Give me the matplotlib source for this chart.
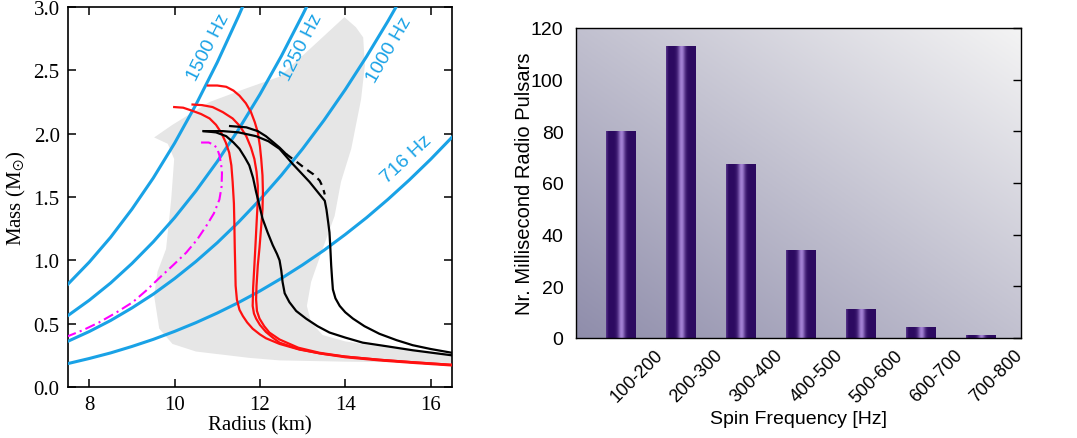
import numpy as np
import matplotlib.pyplot as plt
from matplotlib.colors import to_rgb

# ---- left panel: mass-radius ----
# mass-shedding lines (radius km, mass Msun)
r_716 = [7.5, 8.0, 8.5, 9.0, 9.5, 10.0, 10.5, 11.0, 11.5, 12.0, 12.5, 13.0, 13.5, 14.0, 14.5, 15.0, 15.5, 16.0, 16.5]
m_716 = [0.185, 0.225, 0.269, 0.320, 0.376, 0.439, 0.508, 0.584, 0.667, 0.758, 0.857, 0.964, 1.079, 1.204, 1.337, 1.481, 1.634, 1.797, 1.971]
r_1000 = [7.5, 8.0, 8.5, 9.0, 9.5, 10.0, 10.5, 11.0, 11.5, 12.0, 12.5, 13.0, 13.5, 14.0, 14.5, 15.0, 15.25]
m_1000 = [0.361, 0.438, 0.525, 0.624, 0.733, 0.856, 0.991, 1.139, 1.302, 1.479, 1.671, 1.880, 2.105, 2.348, 2.609, 2.888, 3.035]
r_1250 = [7.5, 8.0, 8.5, 9.0, 9.5, 10.0, 10.5, 11.0, 11.5, 12.0, 12.5, 13.0, 13.1]
m_1250 = [0.564, 0.685, 0.821, 0.975, 1.146, 1.337, 1.548, 1.780, 2.034, 2.310, 2.611, 2.938, 3.006]
r_1500 = [7.5, 8.0, 8.5, 9.0, 9.5, 10.0, 10.5, 11.0, 11.5, 11.7]
m_1500 = [0.812, 0.986, 1.182, 1.404, 1.650, 1.925, 2.229, 2.563, 2.929, 3.084]

freq_labels = ["1500 Hz", "1250 Hz", "1000 Hz", "716 Hz"]
label_r = [10.79, 12.98, 15.04, 15.43]
label_m = [2.69, 2.69, 2.67, 1.80]
label_rot = [63, 63, 60, 43]

# allowed region (gray)
gray_r = [13.98, 14.25, 14.42, 14.46, 14.37, 14.14, 13.90, 13.75, 13.47, 13.20, 13.10, 13.20, 13.47,
          14.0, 15.0, 16.5, 16.5, 14.0, 12.46, 11.75, 10.5, 9.95, 9.64, 9.52, 9.60, 9.80, 9.92,
          9.99, 9.84, 9.52, 9.95, 10.82, 11.7, 12.46, 13.24]
gray_m = [2.92, 2.84, 2.76, 2.54, 2.27, 1.88, 1.62, 1.35, 1.09, 0.83, 0.64, 0.51, 0.41,
          0.36, 0.31, 0.26, 0.19, 0.20, 0.21, 0.23, 0.28, 0.34, 0.46, 0.72, 0.91, 1.09, 1.48,
          1.80, 1.92, 1.97, 2.07, 2.25, 2.36, 2.45, 2.69]

# red EOS curves
red_a_r = [9.99, 10.2, 10.42, 10.62, 10.82, 10.97, 11.09, 11.2, 11.28, 11.33, 11.36, 11.39, 11.40, 11.41,
           11.42, 11.43, 11.46, 11.52, 11.60, 11.70, 11.83, 12.0, 12.14, 12.46, 12.93, 13.5, 14.0, 14.8, 15.6, 16.5]
red_a_m = [2.21, 2.205, 2.18, 2.155, 2.12, 2.07, 2.01, 1.93, 1.85, 1.75, 1.62, 1.45, 1.30, 1.10,
           0.96, 0.80, 0.69, 0.61, 0.56, 0.51, 0.46, 0.415, 0.385, 0.34, 0.295, 0.26, 0.235, 0.21, 0.19, 0.17]
red_b_r = [10.42, 10.65, 10.89, 11.13, 11.36, 11.53, 11.68, 11.79, 11.87, 11.92, 11.95, 11.95, 11.93, 11.90,
           11.87, 11.84, 11.83, 11.86, 11.91, 12.0, 12.14, 12.3, 12.46, 12.9, 13.4, 14.0, 14.8, 15.6, 16.5]
red_b_m = [2.23, 2.225, 2.21, 2.17, 2.12, 2.06, 1.98, 1.89, 1.80, 1.70, 1.59, 1.47, 1.35, 1.15,
           0.96, 0.78, 0.64, 0.58, 0.54, 0.49, 0.435, 0.39, 0.35, 0.30, 0.265, 0.24, 0.215, 0.195, 0.175]
red_c_r = [10.78, 11.0, 11.21, 11.38, 11.52, 11.67, 11.79, 11.88, 11.95, 12.0, 12.03, 12.06, 12.07, 12.06,
           12.03, 11.99, 11.95, 11.92, 11.91, 11.93, 11.99, 12.1, 12.22, 12.46, 12.9, 13.4, 14.0, 14.8, 15.6, 16.5]
red_c_m = [2.38, 2.38, 2.37, 2.34, 2.30, 2.24, 2.17, 2.09, 2.01, 1.90, 1.80, 1.67, 1.54, 1.40,
           1.27, 1.10, 0.96, 0.80, 0.69, 0.60, 0.54, 0.48, 0.43, 0.375, 0.31, 0.27, 0.24, 0.215, 0.195, 0.175]

# black EOS curves
blk_a_r = [10.68, 10.97, 11.21, 11.38, 11.52, 11.65, 11.75, 11.84, 11.91, 11.99, 12.06, 12.18, 12.30, 12.40,
           12.46, 12.50, 12.53, 12.58, 12.69, 12.85, 13.08, 13.35, 13.63, 14.0, 14.41, 15.0, 15.58, 16.5]
blk_a_m = [2.02, 2.01, 1.98, 1.93, 1.88, 1.81, 1.75, 1.65, 1.54, 1.43, 1.33, 1.22, 1.12, 1.05,
           1.00, 0.92, 0.83, 0.74, 0.67, 0.60, 0.54, 0.48, 0.43, 0.39, 0.35, 0.32, 0.29, 0.25]
blk_b_r = [10.68, 11.13, 11.5, 11.91, 12.2, 12.46, 12.77, 13.16, 13.52, 13.56, 13.60, 13.63, 13.65, 13.67,
           13.69, 13.71, 13.77, 13.87, 14.0, 14.18, 14.45, 14.8, 15.2, 15.58, 16.0, 16.5]
blk_b_m = [2.02, 2.02, 2.01, 1.98, 1.94, 1.88, 1.76, 1.62, 1.47, 1.40, 1.30, 1.22, 1.10, 0.96,
           0.86, 0.77, 0.70, 0.64, 0.59, 0.54, 0.48, 0.42, 0.37, 0.33, 0.30, 0.27]
blk_c_r = [11.30, 11.68, 11.95, 12.14, 12.32, 12.46, 12.61]
blk_c_m = [2.06, 2.05, 2.02, 1.98, 1.93, 1.89, 1.84]
blk_dash_r = [12.61, 12.85, 13.08, 13.25, 13.40, 13.47, 13.52]
blk_dash_m = [1.84, 1.78, 1.72, 1.68, 1.63, 1.58, 1.52]

# magenta dash-dot curve
mag_r = [10.62, 10.8, 10.93, 11.0, 11.05, 11.09, 11.11, 11.10, 11.05, 10.92, 10.74, 10.52, 10.27, 9.96,
         9.64, 9.33, 9.02, 8.62, 8.23, 7.86, 7.49]
mag_m = [1.93, 1.93, 1.91, 1.88, 1.83, 1.76, 1.69, 1.58, 1.48, 1.37, 1.27, 1.16, 1.06, 0.96,
         0.86, 0.76, 0.67, 0.585, 0.51, 0.45, 0.40]

# ---- right panel: spin frequency histogram ----
bins = ["100-200", "200-300", "300-400", "400-500", "500-600", "600-700", "700-800"]
counts = [80, 113, 67, 34, 11, 4, 1]

blue = "#19a2e6"
serif = ["Liberation Serif", "DejaVu Serif"]
sans = ["Liberation Sans", "DejaVu Sans"]
plt.rcParams["mathtext.fontset"] = "stix"

fig = plt.figure(figsize=(10.77, 4.39), dpi=100)

# left
ax1 = fig.add_axes([0.0631, 0.1162, 0.3565, 0.8656])
ax1.fill(gray_r, gray_m, color="#e6e6e6", lw=0, zorder=1)
for r, m in [(r_716, m_716), (r_1000, m_1000), (r_1250, m_1250), (r_1500, m_1500)]:
    ax1.plot(r, m, color=blue, lw=2.2, zorder=3)
for r, m in [(red_a_r, red_a_m), (red_b_r, red_b_m), (red_c_r, red_c_m)]:
    ax1.plot(r, m, color="#ff1010", lw=1.6, zorder=4)
for r, m in [(blk_a_r, blk_a_m), (blk_b_r, blk_b_m), (blk_c_r, blk_c_m)]:
    ax1.plot(r, m, color="black", lw=1.6, zorder=5)
ax1.plot(blk_dash_r, blk_dash_m, color="black", lw=1.6, ls=(0, (3.5, 2.5)), zorder=5)
ax1.plot(mag_r, mag_m, color="#ff00ff", lw=1.5, ls=(0, (5, 2, 1, 2)), zorder=4)
for txt, r, m, rot in zip(freq_labels, label_r, label_m, label_rot):
    ax1.text(r, m, txt, color=blue, fontsize=14, family=sans, rotation=rot,
             ha="center", va="center", rotation_mode="anchor", zorder=6)

ax1.set_xlim(7.5, 16.5)
ax1.set_ylim(0, 3.0)
ax1.set_xticks([8, 10, 12, 14, 16])
ax1.set_yticks(np.arange(0, 3.01, 0.5))
ax1.set_yticklabels([f"{v:.1f}" for v in np.arange(0, 3.01, 0.5)])
ax1.tick_params(direction="in", top=True, right=True, length=6, width=1.1, labelsize=15, pad=6)
for lab in ax1.get_xticklabels() + ax1.get_yticklabels():
    lab.set_family(serif)
ax1.set_xlabel("Radius (km)", fontsize=15, family=serif, labelpad=1)
ax1.set_ylabel(r"Mass (M$_{\odot}$)", fontsize=15, family=serif, labelpad=4)
for s in ax1.spines.values():
    s.set_linewidth(1.2)

# right
ax2 = fig.add_axes([0.5348, 0.2278, 0.4132, 0.7062])
xpos = np.arange(len(bins))
xlo, xhi, ytop = -0.75, 6.67, 120

c0 = np.array(to_rgb("#8f8dab"))
c1 = np.array(to_rgb("#f4f4f4"))
yy, xx = np.mgrid[0:1:200j, 0:1:200j]
t = (xx + yy) / 2
bg = c0 + t[..., None] * (c1 - c0)
ax2.imshow(bg, extent=[xlo, xhi, 0, ytop], origin="lower", aspect="auto", zorder=0)

dark = np.array(to_rgb("#2c0a60"))
light = np.array(to_rgb("#a584d6"))
u = np.linspace(0, 1, 80)
prof = np.exp(-((u - 0.52) / 0.12) ** 2) + 0.35 * np.exp(-(u / 0.05) ** 2)
strip = dark + prof[:, None] * (light - dark)
strip = strip[None, :, :]
w = 0.5
for x, h in zip(xpos, counts):
    ax2.imshow(strip, extent=[x - w / 2, x + w / 2, 0, h], aspect="auto",
               interpolation="bicubic", zorder=2)

ax2.set_xlim(xlo, xhi)
ax2.set_ylim(0, ytop)
ax2.set_yticks(range(0, 121, 20))
ax2.set_xticks(xpos + 0.55)
ax2.set_xticklabels(bins, rotation=45, ha="right", va="top", rotation_mode="anchor")
ax2.tick_params(axis="x", length=0, pad=6, labelsize=13)
ax2.tick_params(axis="y", direction="in", right=True, left=False, length=6, width=1,
                labelsize=14, pad=9)
for lab in ax2.get_xticklabels() + ax2.get_yticklabels():
    lab.set_family(sans)
ax2.set_xlabel("Spin Frequency [Hz]", fontsize=14, family=sans, labelpad=3)
ax2.set_ylabel("Nr. Millisecond Radio Pulsars", fontsize=14.5, family=sans, labelpad=-2)
for s in ax2.spines.values():
    s.set_linewidth(1.0)
    s.set_zorder(5)

fig.savefig("out.png", dpi=100)
